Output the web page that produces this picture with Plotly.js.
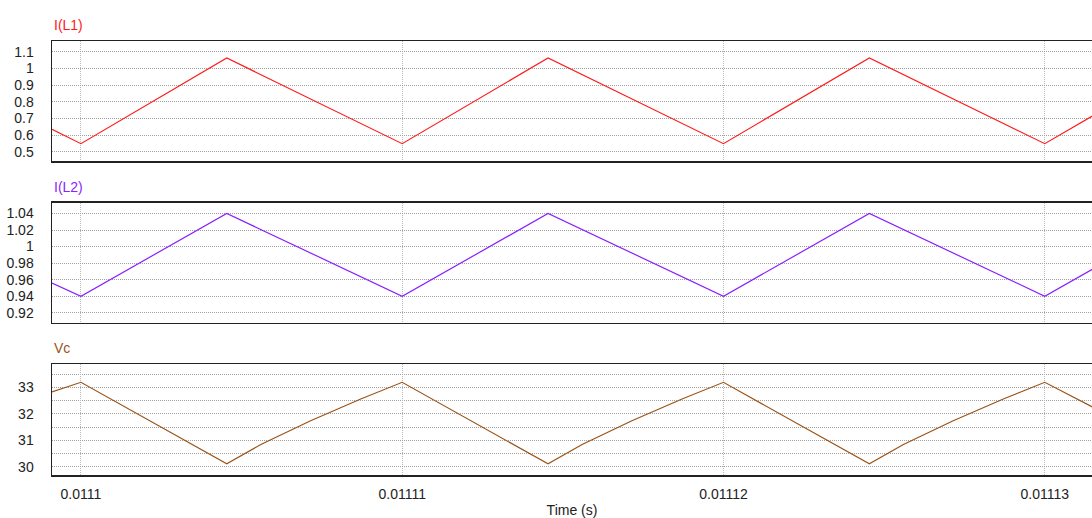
<!DOCTYPE html>
<html>
<head>
<meta charset="utf-8">
<script src="https://cdn.plot.ly/plotly-3.0.1.min.js"></script>
<style>
html,body{margin:0;padding:0;background:#fff;overflow:hidden;}
#chart{width:1092px;height:518px;}
</style>
</head>
<body>
<div id="chart"></div>
<script>
// ---- data ----
const seriesNames = ["I(L1)", "I(L2)", "Vc"];
const seriesColors = ["#ff1a1a", "#8a1fff", "#9a5418"];

const tI = [0.0110991, 0.0111, 0.01110454, 0.01111, 0.01111454, 0.01112, 0.01112454, 0.01113, 0.0111315];
const iL1 = [0.634, 0.548, 1.062, 0.548, 1.062, 0.548, 1.062, 0.548, 0.716];
const iL2 = [0.956, 0.940, 1.040, 0.940, 1.040, 0.940, 1.040, 0.940, 0.973];

const tV = [0.0110991, 0.0111, 0.01110454, 0.0111056, 0.01110715, 0.01110871,
            0.01111, 0.01111454, 0.0111156, 0.01111715, 0.01111871,
            0.01112, 0.01112454, 0.0111256, 0.01112715, 0.01112871,
            0.01113, 0.0111315];
const vC = [32.83, 33.19, 30.11, 30.84, 31.74, 32.56,
            33.19, 30.11, 30.84, 31.74, 32.56,
            33.19, 30.11, 30.84, 31.74, 32.56,
            33.19, 32.25];

const xTickVals = [0.0111, 0.01111, 0.01112, 0.01113];
const xTickText = ["0.0111", "0.01111", "0.01112", "0.01113"];
const xRange = [0.0110991, 0.01113147];

const y1Ticks = [0.5, 0.6, 0.7, 0.8, 0.9, 1, 1.1];
const y1Text = ["0.5", "0.6", "0.7", "0.8", "0.9", "1", "1.1"];
const y2Ticks = [0.92, 0.94, 0.96, 0.98, 1, 1.02, 1.04];
const y2Text = ["0.92", "0.94", "0.96", "0.98", "1", "1.02", "1.04"];
const y3Ticks = [30, 31, 32, 33];
const y3Text = ["30", "31", "32", "33"];
const y3Minor = [30.5, 31.5, 32.5, 33.5];
const xTitle = "Time (s)";

// ---- chart ----
const FONT = "Arial, 'Liberation Sans', sans-serif";
const gridCol = "#a0a0a0";
const gridDash = "1px,1px";
const lineCol = "#222";

const traces = [
  {x: tI, y: iL1, xaxis: "x", yaxis: "y", mode: "lines", line: {color: seriesColors[0], width: 1.2}, name: seriesNames[0]},
  {x: tI, y: iL2, xaxis: "x2", yaxis: "y2", mode: "lines", line: {color: seriesColors[1], width: 1.2}, name: seriesNames[1]},
  {x: tV, y: vC, xaxis: "x3", yaxis: "y3", mode: "lines", line: {color: seriesColors[2], width: 1.2}, name: seriesNames[2]}
];

function xAx(anchor, showLabels) {
  return {
    anchor: anchor, range: xRange, tickvals: xTickVals, ticktext: xTickText,
    showticklabels: showLabels, showgrid: true, gridcolor: "#b8b8b8", griddash: gridDash, gridwidth: 1,
    showline: true, mirror: true, linecolor: lineCol, linewidth: 1.5,
    zeroline: false, ticks: "", tickfont: {family: FONT, size: 14, color: "#222"},
    ticklabelstandoff: 6
  };
}
function yAx(domain, range, tv, tt) {
  return {
    domain: domain, range: range, tickvals: tv, ticktext: tt,
    showgrid: true, gridcolor: gridCol, griddash: gridDash, gridwidth: 1,
    showline: true, mirror: false, linecolor: lineCol, linewidth: 1.5,
    zeroline: false, ticks: "", tickfont: {family: FONT, size: 14, color: "#222"},
    ticklabelstandoff: 14
  };
}

const d1 = [0.7235, 1], d2 = [0.3509, 0.6274], d3 = [0, 0.2551];

const xa3 = xAx("y3", true);
xa3.title = {text: xTitle, font: {family: FONT, size: 14, color: "#222"}, standoff: 4};

const ya3 = yAx(d3, [29.69, 33.87], y3Ticks, y3Text);
ya3.minor = {tickvals: y3Minor, showgrid: true, gridcolor: gridCol, griddash: gridDash, gridwidth: 1, ticks: ""};

const layout = {
  width: 1092, height: 518,
  margin: {l: 52, r: 0, t: 41, b: 43},
  paper_bgcolor: "#fff", plot_bgcolor: "#fff",
  showlegend: false,
  font: {family: FONT, size: 14, color: "#222"},
  xaxis: xAx("y", false),
  xaxis2: xAx("y2", false),
  xaxis3: xa3,
  yaxis: yAx(d1, [0.444, 1.164], y1Ticks, y1Text),
  yaxis2: yAx(d2, [0.908, 1.053], y2Ticks, y2Text),
  yaxis3: ya3,
  annotations: [
    {text: seriesNames[0], xref: "paper", yref: "paper", x: 0, y: d1[1], xanchor: "left", yanchor: "middle", yshift: 16, showarrow: false, font: {family: FONT, size: 14, color: seriesColors[0]}},
    {text: seriesNames[1], xref: "paper", yref: "paper", x: 0, y: d2[1], xanchor: "left", yanchor: "middle", yshift: 16, showarrow: false, font: {family: FONT, size: 14, color: seriesColors[1]}},
    {text: seriesNames[2], xref: "paper", yref: "paper", x: 0, y: d3[1], xanchor: "left", yanchor: "middle", yshift: 16, showarrow: false, font: {family: FONT, size: 14, color: seriesColors[2]}}
  ]
};

Plotly.newPlot("chart", traces, layout, {staticPlot: true, displayModeBar: false});
</script>
</body>
</html>
